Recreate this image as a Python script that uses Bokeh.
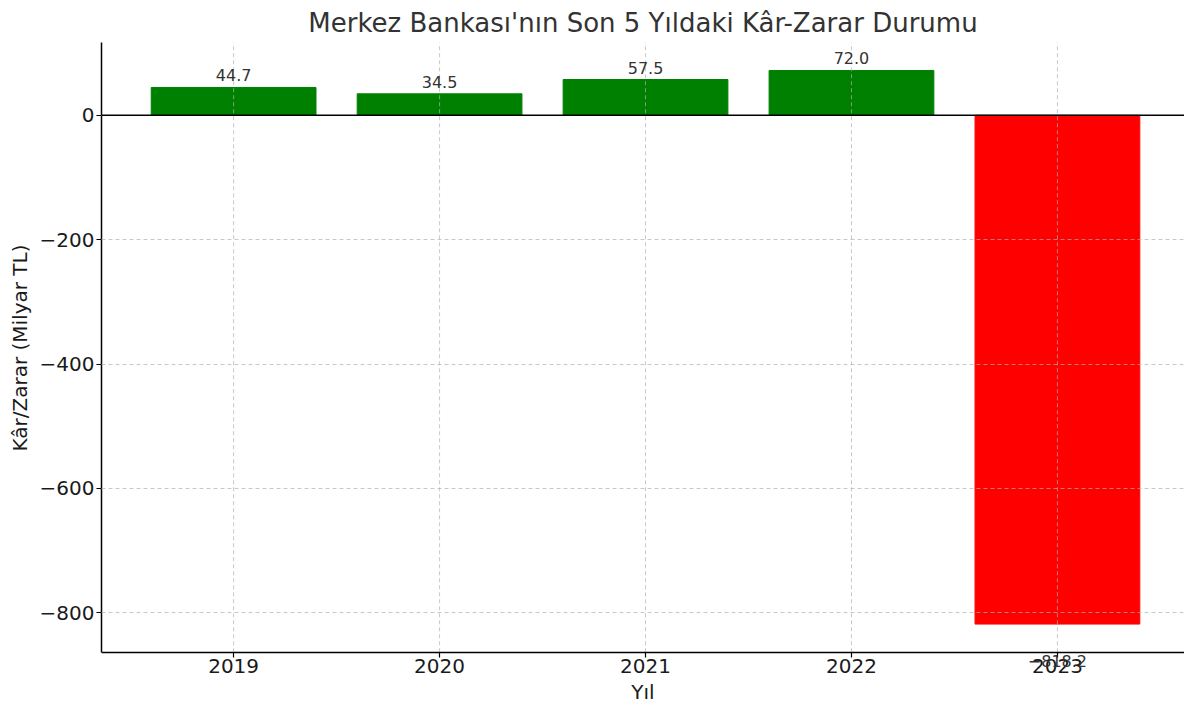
from bokeh.plotting import figure
from bokeh.models import ColumnDataSource, LabelSet, Label, Span, Range1d, Title
from bokeh.core.properties import value
from bokeh.embed import file_html
from bokeh.resources import INLINE

years = ["2019", "2020", "2021", "2022", "2023"]
profit = [44.7, 34.5, 57.5, 72.0, -818.2]
colors = ["green" if v >= 0 else "red" for v in profit]
labels = [f"{v:.1f}".replace("-", "\u2212") for v in profit]

y_ticks = [0, -200, -400, -600, -800]
y_lo, y_hi = -863.5, 117

xs = list(range(len(years)))

source = ColumnDataSource(dict(x=xs, year=years, profit=profit, color=colors, label=labels))
pos = ColumnDataSource(dict(
    x=[i for i, v in zip(xs, profit) if v >= 0],
    profit=[v for v in profit if v >= 0],
    label=[l for l, v in zip(labels, profit) if v >= 0],
))

FONT = "DejaVu Sans"
GRID = dict(line_color="#b0b0b0", line_alpha=0.7, line_dash="4 3", line_width=1)

# the frame runs down to the bottom of the figure; the x axis is pinned at y_lo
# so that the 2023 value label can sit below it without being clipped
p = figure(
    x_range=Range1d(-0.6415, 4.617),
    y_range=Range1d(-939.5, y_hi),
    width=1184, height=699,
    output_backend="svg", toolbar_location=None,
    title="Merkez Bankası'nın Son 5 Yıldaki Kâr-Zarar Durumu",
    min_border_left=96, min_border_right=0, min_border_bottom=0, min_border_top=10,
)

p.vbar(x="x", top="profit", bottom=0, width=0.8, color="color", source=source)

# vertical grid lines, stopped at the pinned x axis
p.segment(x0=xs, x1=xs, y0=y_lo, y1=y_hi, **GRID)

p.add_layout(LabelSet(x="x", y="profit", text="label", source=pos,
                      text_align="center", text_baseline="alphabetic", y_offset=6,
                      text_font=value(FONT), text_font_size="16px", text_color="#333333"))
for i, v, lab in zip(xs, profit, labels):
    if v < 0:
        p.add_layout(Label(x=i, y=v, text=lab, text_align="center", text_baseline="top",
                           y_offset=-31, text_font=FONT, text_font_size="16px",
                           text_color="#333333"))

p.title.align = "center"
p.title.text_font = FONT
p.title.text_font_size = "26px"
p.title.text_font_style = "normal"
p.title.text_color = "#333333"

p.outline_line_color = None
p.background_fill_color = "white"

p.xaxis.ticker = xs
p.xaxis.major_label_overrides = {i: y for i, y in zip(xs, years)}
p.yaxis.ticker = y_ticks
p.yaxis.major_label_overrides = {t: str(t).replace("-", "\u2212") for t in y_ticks}
p.yaxis.bounds = (y_lo, y_hi)
p.xaxis.fixed_location = y_lo

for ax in (p.xaxis[0], p.yaxis[0]):
    ax.axis_line_color = "black"
    ax.axis_line_width = 1.5
    ax.major_tick_line_color = "black"
    ax.major_tick_line_width = 1.2
    ax.major_tick_in = 0
    ax.major_tick_out = 5
    ax.minor_tick_line_color = None
    ax.major_label_text_font = FONT
    ax.major_label_text_font_size = "20px"
    ax.major_label_text_color = "#1a1a1a"
    ax.axis_label_text_font = FONT
    ax.axis_label_text_font_size = "20px"
    ax.axis_label_text_font_style = "normal"
    ax.axis_label_text_color = "#1a1a1a"

p.xaxis.axis_label = "Yıl"
p.xaxis.major_label_standoff = 2
p.yaxis.major_label_standoff = 2
p.xaxis.axis_label_standoff = 3

# y label as a side title, so it can be centred on the visible part of the axis
p.add_layout(Title(text="Kâr/Zarar (Milyar TL)", align="left", offset=248, standoff=10,
                   text_font=FONT, text_font_size="20px", text_font_style="normal",
                   text_color="#1a1a1a"), "left")

p.xgrid.visible = False
p.ygrid.grid_line_color = GRID["line_color"]
p.ygrid.grid_line_alpha = GRID["line_alpha"]
p.ygrid.grid_line_dash = GRID["line_dash"]
p.ygrid.grid_line_width = GRID["line_width"]
p.ygrid.level = "overlay"

p.add_layout(Span(location=0, dimension="width", line_color="black", line_width=1.5, level="overlay"))

open("out.html", "w").write(file_html(p, INLINE))
